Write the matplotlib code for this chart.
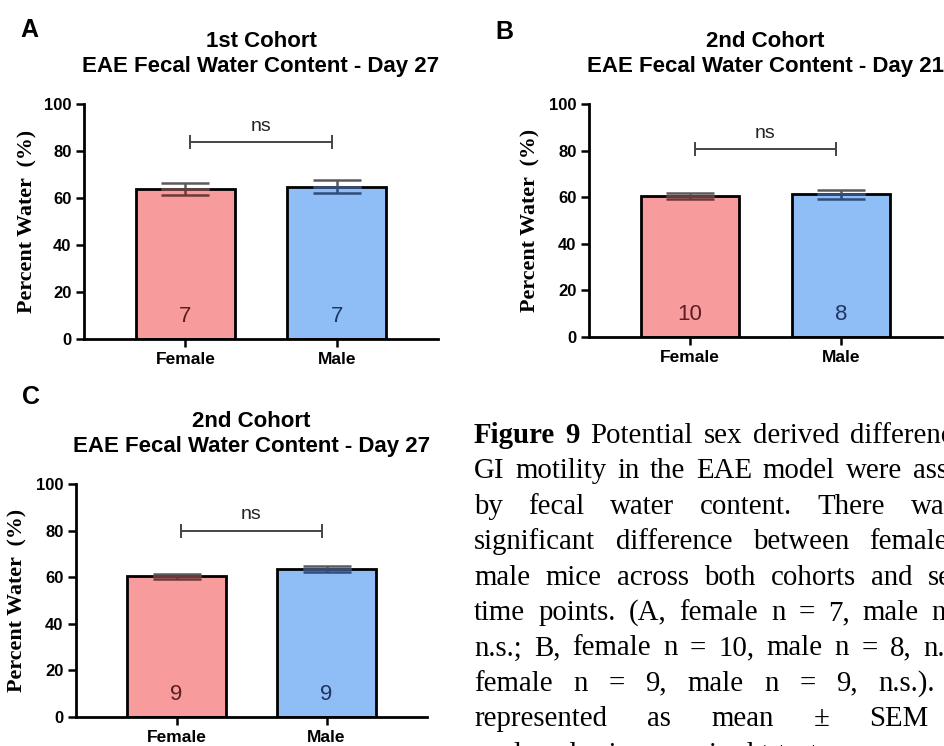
import matplotlib
matplotlib.use('Agg')
import matplotlib.pyplot as plt

# data
sexes = ['Female', 'Male']
titulos = ['1st Cohort\nEAE Fecal Water Content - Day 27',
           '2nd Cohort\nEAE Fecal Water Content - Day 21',
           '2nd Cohort\nEAE Fecal Water Content - Day 27']
letras = ['A', 'B', 'C']
medias = [[63.8, 64.8], [60.5, 61.3], [60.4, 63.5]]
sems = [[2.5, 2.7], [1.3, 2.0], [1.1, 1.3]]
ns_n = [[7, 7], [10, 8], [9, 9]]
sig_y = [83.7, 80.7, 80.0]

legenda = [
    'Figure 9 Potential sex derived differences in',
    'GI motility in the EAE model were assessed',
    'by fecal water content. There was no',
    'significant difference between female and',
    'male mice across both cohorts and several',
    'time points. (A, female n = 7, male n = 7,',
    'n.s.; B, female n = 10, male n = 8, n.s.; C,',
    'female n = 9, male n = 9, n.s.). Data',
    'represented as mean \u00b1 SEM and',
    'analyzed using unpaired t-test.',
]

cores = ['#F89B9C', '#8FBDF5']
cores_num = ['#5a1f24', '#1f3563']
cores_baixo = ['#6a3a3a', '#2f4c7a']

W, H = 944, 746
fig = plt.figure(figsize=(W / 100, H / 100), dpi=100)

# axes rectangles in pixels: (x_left, x_right, y_zero, y_hundred)
caixas = [(84, 438, 339, 104), (589, 942, 337, 104), (76, 427, 717, 484)]
pos_letra = [(20, 18), (495, 20), (22, 385)]
pos_ylabel = [27, 530, 17]

for i in range(3):
    x0, x1, yb, yt = caixas[i]
    ax = fig.add_axes([x0 / W, (H - yb) / H, (x1 - x0) / W, (yb - yt) / H])
    xs = [0, 1]
    ax.bar(xs, medias[i], width=0.655, color=cores, edgecolor='black',
           linewidth=2, zorder=2)
    for j in range(2):
        # upper whisker (grey) and lower whisker (dark, inside bar)
        ax.errorbar(xs[j], medias[i][j], yerr=[[0], [sems[i][j]]], color='#5a5a5a',
                    capsize=17, capthick=1.8, elinewidth=1.8, zorder=3)
        ax.errorbar(xs[j], medias[i][j], yerr=[[sems[i][j]], [0]], color=cores_baixo[j],
                    capsize=17, capthick=1.8, elinewidth=1.8, zorder=3)
        ax.text(xs[j], 9.5, str(ns_n[i][j]), ha='center', va='center',
                fontsize=16, color=cores_num[j], family='Liberation Sans', zorder=4)
    # significance bracket
    ax.errorbar([0.5], [sig_y[i]], xerr=[[0.47], [0.47]], color='#444444',
                capsize=5, capthick=1.4, elinewidth=1.4)
    ax.text(0.5, sig_y[i] + 6.8, 'ns', ha='center', va='center', fontsize=14,
            family='Liberation Sans', color='#222222')

    ax.set_xlim(-0.67, 1.67)
    ax.set_ylim(0, 100)
    ax.set_yticks([0, 20, 40, 60, 80, 100])
    ax.set_xticks(xs)
    ax.set_xticklabels(sexes)
    for lab in ax.get_xticklabels():
        lab.set_fontweight('bold')
        lab.set_fontsize(12.5)
        lab.set_family('Liberation Sans')
    for lab in ax.get_yticklabels():
        lab.set_fontweight('bold')
        lab.set_fontsize(12)
        lab.set_family('Liberation Sans')
    ax.tick_params(axis='both', direction='out', length=6, width=1.8, pad=3)
    for s in ['top', 'right']:
        ax.spines[s].set_visible(False)
    for s in ['left', 'bottom']:
        ax.spines[s].set_linewidth(2)
    ax.set_title(titulos[i], fontsize=16, fontweight='bold', family='Liberation Sans',
                 pad=23, linespacing=1.25)
    fig.text(pos_ylabel[i] / W, 1 - ((yb + yt) / 2) / H, 'Percent Water  (%)',
             rotation=90, ha='center', va='center', fontsize=15.8, fontweight='bold',
             family='Liberation Serif')
    lx, ly = pos_letra[i]
    fig.text(lx / W, 1 - ly / H, letras[i], ha='left', va='top', fontsize=18,
             fontweight='bold', family='Liberation Sans')

# justified caption (runs past the right edge like the source crop)
renderer = fig.canvas.get_renderer()
esq, dir_ = 474, 1010
base0, passo = 443, 35.4
tam = 20.8
for k, linha in enumerate(legenda):
    palavras = linha.split(' ')
    objs = []
    for m, p in enumerate(palavras):
        peso = 'bold' if (k == 0 and m < 2) else 'normal'
        t = fig.text(0, 0, p, fontsize=tam, family='Liberation Serif', fontweight=peso,
                     ha='left', va='baseline')
        objs.append(t)
    larguras = [t.get_window_extent(renderer).width for t in objs]
    if k == len(legenda) - 1:
        gap = tam * 100 / 72 * 0.25
    else:
        gap = (dir_ - esq - sum(larguras)) / (len(palavras) - 1)
    x = esq
    y = base0 + k * passo
    for t, w in zip(objs, larguras):
        if x >= W:
            t.remove()
        else:
            t.set_position((x / W, 1 - y / H))
        x += w + gap

fig.savefig('out.png', dpi=100)
